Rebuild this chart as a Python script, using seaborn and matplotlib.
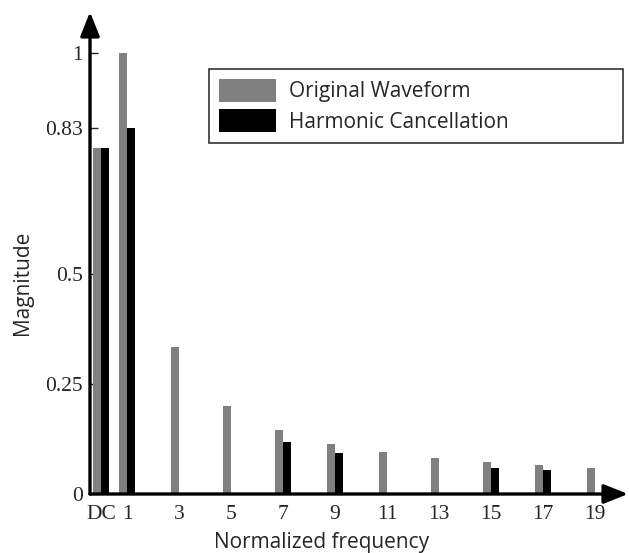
import matplotlib
matplotlib.use("Agg")
import matplotlib.pyplot as plt
import seaborn as sns
import pandas as pd

# Harmonic order (0 = DC) and normalized magnitudes of each spectrum
harmonics = [0, 1, 3, 5, 7, 9, 11, 13, 15, 17, 19]
tick_labels = ["DC", "1", "3", "5", "7", "9", "11", "13", "15", "17", "19"]
original = [0.785, 1.0, 0.333, 0.2, 0.145, 0.113, 0.095, 0.082, 0.072, 0.066, 0.060]
cancelled = [0.785, 0.83, 0.0, 0.0, 0.118, 0.093, 0.0, 0.0, 0.060, 0.055, 0.0]
series_names = ["Original Waveform", "Harmonic Cancellation"]
y_ticks = [0, 0.25, 0.5, 0.83, 1]
y_tick_labels = ["0", "0.25", "0.5", "0.83", "1"]

df = pd.DataFrame({
    "harmonic": harmonics * 2,
    "magnitude": original + cancelled,
    "series": [series_names[0]] * len(harmonics) + [series_names[1]] * len(harmonics),
})

sns.set_style("white")
plt.rcParams["font.family"] = ["Open Sans", "DejaVu Sans"]

W, H = 629, 553
fig = plt.figure(figsize=(W / 100, H / 100), dpi=100)
ax = fig.add_axes([90 / W, 59 / H, (628 - 90) / W, (494 - 12) / H])

sns.barplot(data=df, x="harmonic", y="magnitude", hue="series",
            native_scale=True, width=0.6, dodge=True,
            palette=["#808080", "#000000"], saturation=1,
            linewidth=0, ax=ax)

ax.set_xlim(-0.423, 20.27)
ax.set_ylim(0, 1.093)

for s in ax.spines.values():
    s.set_visible(False)

# Axes drawn as arrows
arrow_kw = dict(arrowstyle="-|>,head_length=1.05,head_width=0.42", lw=2.4,
                color="black", mutation_scale=14, shrinkA=0, shrinkB=0)
ax.annotate("", xy=(1, 0), xytext=(0, 0), xycoords="axes fraction",
            textcoords="axes fraction", arrowprops=arrow_kw, annotation_clip=False)
ax.annotate("", xy=(0, 1), xytext=(0, 0), xycoords="axes fraction",
            textcoords="axes fraction", arrowprops=arrow_kw, annotation_clip=False)

serif = ["Liberation Serif", "DejaVu Serif"]
ax.set_xticks(harmonics)
ax.set_xticklabels(tick_labels, family=serif, fontsize=15.5)
ax.set_yticks(y_ticks)
ax.set_yticklabels(y_tick_labels, family=serif, fontsize=15.5)
ax.tick_params(axis="x", length=0, pad=8)
ax.tick_params(axis="y", direction="in", length=6, width=1, pad=5, left=True)

ax.set_xlabel("Normalized frequency", fontsize=15, labelpad=6)
ax.xaxis.label.set_x(0.431)
ax.set_ylabel("Magnitude", fontsize=15, labelpad=9)
ax.yaxis.label.set_y(0.438)

handles, labels = ax.get_legend_handles_labels()
ax.legend(handles, labels, loc="upper left", mode="expand",
          bbox_to_anchor=(209 / W, (553 - 152) / H, 414 / W, 83 / H),
          bbox_transform=fig.transFigure,
          borderaxespad=0, fancybox=False, framealpha=1, edgecolor="#333333",
          fontsize=15, handlelength=2.75, handleheight=1.3, borderpad=0.48,
          labelspacing=0.34, handletextpad=0.63, title=None)
ax.get_legend().get_frame().set_linewidth(1.2)

fig.savefig("out.png", dpi=100)
